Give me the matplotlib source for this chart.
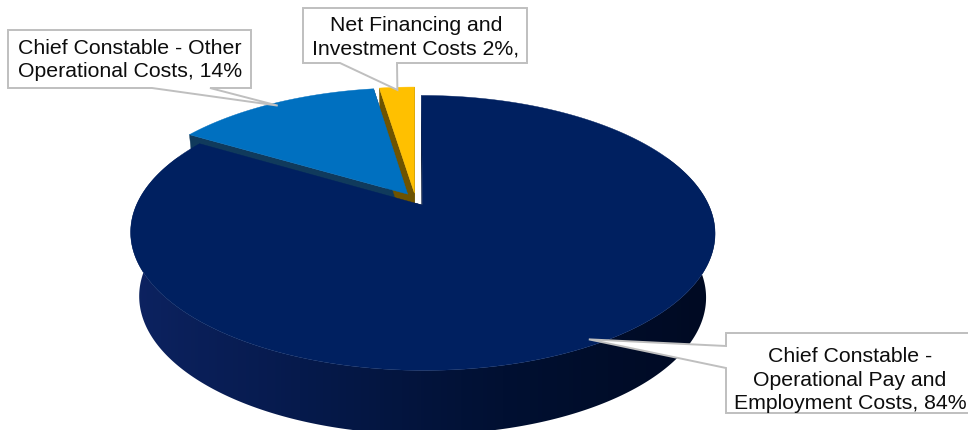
import numpy as np
import matplotlib.pyplot as plt
from matplotlib.patches import Polygon
from matplotlib.colors import LinearSegmentedColormap

# data (share of budget, %)
categories = ["Chief Constable - Operational Pay and Employment Costs",
              "Chief Constable - Other Operational Costs",
              "Net Financing and Investment Costs"]
shares = [83.6, 14.0, 2.4]
labels = ["Chief Constable -\nOperational Pay and\nEmployment Costs, 84%",
          "Chief Constable - Other\nOperational Costs, 14%",
          "Net Financing and\nInvestment Costs 2%,"]
top_colors = ["#002060", "#0070C0", "#FFC000"]
face_colors = ["#001235", "#103a5c", "#6e5300"]

# label boxes: (left, top, right, bottom), pointer side and span, text centre
boxes = [
    dict(rect=(726, 333, 990, 413), side="left", span=(346, 368), text=(850, 380)),
    dict(rect=(8, 30, 251, 88), side="bottom", span=(152, 210), text=(130, 60)),
    dict(rect=(303, 8, 527, 63), side="bottom", span=(340, 397), text=(416, 37)),
]

# projection of the tilted pie (pixel units)
XC, YC = 415.5, 199.5
NX, MY, K = 283.7, 129.6, 0.2
DEPTH, BOT = 64, 0.97
EXPLODE = 0.05


def proj(u, w, bottom=False):
    d = 1 - K * w
    x = NX * u / d
    y = YC + MY * w / d
    if bottom:
        x = x * BOT
        y = y + DEPTH
    return XC + x, y


fig = plt.figure(figsize=(9.68, 4.30), dpi=100)
ax = fig.add_axes([0, 0, 1, 1])
ax.set_xlim(0, 968)
ax.set_ylim(430, 0)
ax.axis("off")

wall_cmap = LinearSegmentedColormap.from_list(
    "wall", ["#0d2362", "#061a4c", "#011032", "#000a22"])

total = sum(shares)
starts = np.cumsum([0] + shares[:-1]) / total * 360
spans = np.array(shares) / total * 360

anchors = []
for i, (t0, sp) in enumerate(zip(starts, spans)):
    t1 = t0 + sp
    mid = np.radians((t0 + t1) / 2)
    su, sw = EXPLODE * np.sin(mid), -EXPLODE * np.cos(mid)
    th = np.radians(np.linspace(t0, t1, max(int(sp * 2), 4) + 1))
    ru = su + np.sin(th)
    rw = sw - np.cos(th)

    # top face
    pts = [proj(su, sw)] + [proj(a, b) for a, b in zip(ru, rw)]
    ax.add_patch(Polygon(pts, closed=True, facecolor=top_colors[i],
                         edgecolor=top_colors[i], lw=0.3, zorder=3))

    # outer wall (front part only)
    keep = rw > -0.35
    if keep.sum() > 1:
        tp = [proj(a, b) for a, b in zip(ru[keep], rw[keep])]
        bp = [proj(a, b, True) for a, b in zip(ru[keep], rw[keep])]
        wall = Polygon(tp + bp[::-1], closed=True, zorder=2)
        if i == 0:
            wall.set_facecolor("none")
            wall.set_edgecolor("none")
            ax.add_patch(wall)
            grad = np.linspace(0, 1, 256)[None, :] ** 0.9
            im = ax.imshow(grad, cmap=wall_cmap, aspect="auto",
                           extent=(125, 720, 440, 150), zorder=2,
                           interpolation="bilinear")
            im.set_clip_path(wall)
        else:
            wall.set_facecolor(face_colors[i])
            wall.set_edgecolor(face_colors[i])
            wall.set_linewidth(0.3)
            ax.add_patch(wall)

    # radial cut faces
    for a, b in ((ru[0], rw[0]), (ru[-1], rw[-1])):
        quad = [proj(su, sw), proj(a, b), proj(a, b, True), proj(su, sw, True)]
        ax.add_patch(Polygon(quad, closed=True, facecolor=face_colors[i],
                             edgecolor=face_colors[i], lw=0.3, zorder=1.5))

    r = 0.97
    anchors.append(proj(su + r * np.sin(mid), sw - r * np.cos(mid)))

# callout labels
for box, anc, txt in zip(boxes, anchors, labels):
    l, t, r, b = box["rect"]
    a0, a1 = box["span"]
    if box["side"] == "bottom":
        verts = [(l, t), (r, t), (r, b), (a1, b), anc, (a0, b), (l, b)]
    else:
        verts = [(l, t), (r, t), (r, b), (l, b), (l, a1), anc, (l, a0)]
    ax.add_patch(Polygon(verts, closed=True, facecolor="white",
                         edgecolor="#bfbfbf", lw=1.4, zorder=10))
    ax.text(box["text"][0], box["text"][1], txt, ha="center", va="center",
            fontsize=15.3, family="Liberation Sans", color="#0d0d0d",
            linespacing=1.3, zorder=11)

fig.savefig("out.png", dpi=100)
